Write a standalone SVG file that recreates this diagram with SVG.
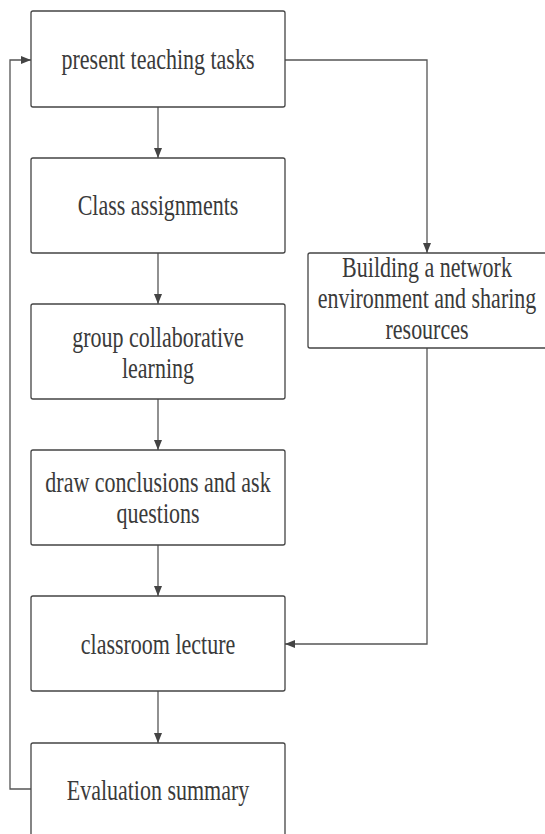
<svg xmlns="http://www.w3.org/2000/svg" width="545" height="834" viewBox="0 0 545 834">
  <style>
    .box { fill: #ffffff; stroke: #444444; stroke-width: 1.3; }
    .lbl { font-family: "Liberation Serif", "Times New Roman", serif; font-size: 22px; fill: #3a3a3a; text-anchor: middle; }
    .wire { fill: none; stroke: #555555; stroke-width: 1.3; }
  </style>
  <defs>
    <marker id="arrow" viewBox="0 0 10 8" refX="10" refY="4" markerWidth="10" markerHeight="8" markerUnits="userSpaceOnUse" orient="auto">
      <path d="M0,0 L10,4 L0,8 Z" fill="#444444"/>
    </marker>
  </defs>
  <rect width="545" height="834" fill="#ffffff"/>

  <g id="connectors">
    <path class="wire" d="M158,107 V158" marker-end="url(#arrow)"/>
    <path class="wire" d="M158,253 V304" marker-end="url(#arrow)"/>
    <path class="wire" d="M158,399 V450" marker-end="url(#arrow)"/>
    <path class="wire" d="M158,545 V596" marker-end="url(#arrow)"/>
    <path class="wire" d="M158,691 V743" marker-end="url(#arrow)"/>
    <path class="wire" d="M285,60 H427 V253" marker-end="url(#arrow)"/>
    <path class="wire" d="M427,348 V644 H285" marker-end="url(#arrow)"/>
    <path class="wire" d="M31,789 H10 V60 H31" marker-end="url(#arrow)"/>
  </g>

  <!-- labels are drawn slightly tall: 22px type stretched 1.3x vertically -->
  <g id="present-teaching-tasks">
    <rect class="box" x="31" y="11" width="254" height="96" rx="2"/>
    <text class="lbl" transform="translate(158,69) scale(1,1.3)">present teaching tasks</text>
  </g>
  <g id="class-assignments">
    <rect class="box" x="31" y="158" width="254" height="95" rx="2"/>
    <text class="lbl" transform="translate(158,215) scale(1,1.3)">Class assignments</text>
  </g>
  <g id="group-collaborative-learning">
    <rect class="box" x="31" y="304" width="254" height="95" rx="2"/>
    <text class="lbl" transform="translate(158,346.5) scale(1,1.3)">group collaborative</text>
    <text class="lbl" transform="translate(158,377.5) scale(1,1.3)">learning</text>
  </g>
  <g id="draw-conclusions">
    <rect class="box" x="31" y="450" width="254" height="95" rx="2"/>
    <text class="lbl" transform="translate(158,492) scale(1,1.3)">draw conclusions and ask</text>
    <text class="lbl" transform="translate(158,523) scale(1,1.3)">questions</text>
  </g>
  <g id="classroom-lecture">
    <rect class="box" x="31" y="596" width="254" height="95" rx="2"/>
    <text class="lbl" transform="translate(158,654) scale(1,1.3)">classroom lecture</text>
  </g>
  <g id="evaluation-summary">
    <rect class="box" x="31" y="743" width="254" height="100" rx="2"/>
    <text class="lbl" transform="translate(158,800) scale(1,1.3)">Evaluation summary</text>
  </g>
  <g id="network-environment">
    <rect class="box" x="308" y="253" width="240" height="95" rx="2"/>
    <text class="lbl" transform="translate(427,277) scale(1,1.3)">Building a network</text>
    <text class="lbl" transform="translate(427,308) scale(1,1.3)">environment and sharing</text>
    <text class="lbl" transform="translate(427,338.5) scale(1,1.3)">resources</text>
  </g>
</svg>
